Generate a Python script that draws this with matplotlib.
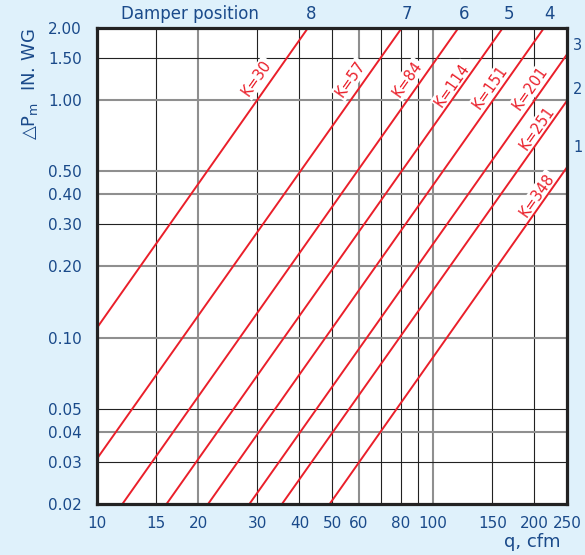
import matplotlib
matplotlib.use("Agg")
import matplotlib.pyplot as plt
import matplotlib.transforms as mtransforms

# ---- data ----
k_values = [30, 57, 84, 114, 151, 201, 251, 348]
q_start = [10.0, 10.0, 11.9, 16.1, 21.4, 28.4, 35.5, 49.2]
dp_start = [0.11, 0.031, 0.02, 0.02, 0.02, 0.02, 0.02, 0.02]
q_end = [42.4, 80.6, 118.8, 161.0, 213.5, 250.0, 250.0, 250.0]
dp_end = [2.0, 2.0, 2.0, 2.0, 2.0, 1.55, 0.99, 0.52]

label_q = [29.9, 56.6, 83.7, 113.9, 147.8, 194.4, 204.0, 204.0]
label_dp = [1.233, 1.221, 1.22, 1.152, 1.13, 1.12, 0.76, 0.397]

damper_top = ["8", "7", "6", "5", "4"]
damper_top_q = [43.3, 83.7, 123.7, 168.3, 221.3]
damper_right = ["3", "2", "1"]
damper_right_dp = [1.69, 1.10, 0.63]

x_ticks = [10, 15, 20, 30, 40, 50, 60, 80, 100, 150, 200, 250]
x_tick_labels = ["10", "15", "20", "30", "40", "50", "60", "80", "100", "150", "200", "250"]
x_grid_black = [15, 30, 40, 50, 70, 80, 90, 150, 200]
x_grid_gray = [20, 60, 100]
y_ticks = [0.02, 0.03, 0.04, 0.05, 0.10, 0.20, 0.30, 0.40, 0.50, 1.00, 1.50, 2.00]
y_tick_labels = ["0.02", "0.03", "0.04", "0.05", "0.10", "0.20", "0.30", "0.40", "0.50", "1.00", "1.50", "2.00"]
y_grid_black = [0.03, 0.05, 0.30, 1.50]
y_grid_gray = [0.04, 0.10, 0.20, 0.40, 0.50, 1.00]

BG = "#dff1fb"
TXT = "#1a4a8a"
RED = "#ea1f2a"

fig = plt.figure(figsize=(5.85, 5.55), dpi=100, facecolor=BG)
ax = fig.add_axes([97/585, 1-504/555, 470/585, 476/555])
ax.set_facecolor("white")
ax.set_xscale("log")
ax.set_yscale("log")
ax.set_xlim(10, 250)
ax.set_ylim(0.02, 2.0)

for x in x_grid_black:
    ax.axvline(x, color="#222222", lw=0.8, zorder=1)
for x in x_grid_gray:
    ax.axvline(x, color="#8f8f8f", lw=1.5, zorder=1)
for y in y_grid_black:
    ax.axhline(y, color="#222222", lw=0.8, zorder=1)
for y in y_grid_gray:
    ax.axhline(y, color="#8f8f8f", lw=1.5, zorder=1)

for qs, ds, qe, de in zip(q_start, dp_start, q_end, dp_end):
    ax.plot([qs, qe], [ds, de], color=RED, lw=1.4, zorder=3, solid_capstyle="butt")

for k, lq, ld in zip(k_values, label_q, label_dp):
    ax.text(lq, ld, f"K={k}", rotation=54.8, rotation_mode="anchor",
            ha="center", va="center", color=RED, fontsize=10.5, zorder=2,
            bbox=dict(boxstyle="square,pad=0.1", fc="white", ec="none"))

ax.set_xticks(x_ticks)
ax.set_xticklabels(x_tick_labels)
ax.set_yticks(y_ticks)
ax.set_yticklabels(y_tick_labels)
ax.minorticks_off()
ax.tick_params(axis="both", length=0, labelsize=11, labelcolor=TXT)
ax.tick_params(axis="x", pad=9)
ax.tick_params(axis="y", pad=11)

for s in ax.spines.values():
    s.set_linewidth(2.3)
    s.set_color("#222222")
    s.set_zorder(5)

trans_top = mtransforms.blended_transform_factory(ax.transData, fig.transFigure)
for lab, q in zip(damper_top, damper_top_q):
    ax.text(q, 1-14/555, lab, transform=trans_top, ha="center", va="center",
            color=TXT, fontsize=12, clip_on=False)

trans_right = mtransforms.blended_transform_factory(fig.transFigure, ax.transData)
for lab, d in zip(damper_right, damper_right_dp):
    ax.text(573/585, d, lab, transform=trans_right, ha="left", va="center",
            color=TXT, fontsize=10.5, clip_on=False)

fig.text(190/585, 1-14/555, "Damper position", ha="center", va="center",
         color=TXT, fontsize=12)
fig.text(532/585, 1-542/555, "q, cfm", ha="center", va="center",
         color=TXT, fontsize=13)
fig.text(30/585, 1-84/555, "△P$_{\\mathrm{m}}$  IN. WG", rotation=90,
         ha="center", va="center", color=TXT, fontsize=13)

fig.savefig("out.png", dpi=100, facecolor=BG)
